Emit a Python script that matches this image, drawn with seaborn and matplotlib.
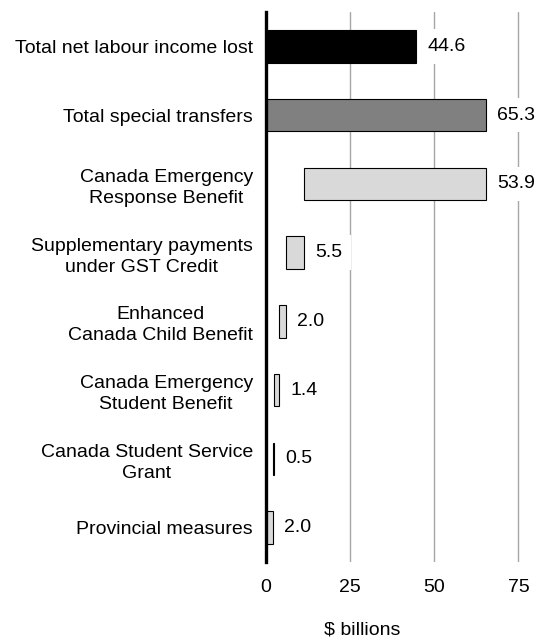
import numpy as np
import pandas as pd
import seaborn as sns
import matplotlib.pyplot as plt

# data
categories = [
    "Total net labour income lost",
    "Total special transfers",
    "Canada Emergency\nResponse Benefit",
    "Supplementary payments\nunder GST Credit",
    "Enhanced\nCanada Child Benefit",
    "Canada Emergency\nStudent Benefit",
    "Canada Student Service\nGrant",
    "Provincial measures",
]
values = [44.6, 65.3, 53.9, 5.5, 2.0, 1.4, 0.5, 2.0]
kinds = ["lost", "total", "part", "part", "part", "part", "part", "part"]
xticks = [0, 25, 50, 75]

colors = {"lost": "#000000", "total": "#808080", "part": "#d9d9d9"}

# waterfall: the parts stack up from the bottom row to the total
starts = []
running = 0.0
for v, k in zip(values[::-1], kinds[::-1]):
    if k == "part":
        starts.append(running)
        running += v
    else:
        starts.append(0.0)
starts = starts[::-1]

df = pd.DataFrame({"category": categories, "value": values, "kind": kinds})

sns.set_style("white")
plt.rcParams["font.family"] = ["Liberation Sans", "DejaVu Sans"]
plt.rcParams["text.color"] = "black"
plt.rcParams["xtick.color"] = "black"
plt.rcParams["ytick.color"] = "black"
plt.rcParams["axes.labelcolor"] = "black"

fig = plt.figure(figsize=(5.42, 6.4), dpi=100)
ax = fig.add_axes([266 / 542, 78 / 640, 276 / 542, 550 / 640])

sns.barplot(data=df, y="category", x="value", hue="category",
            palette=[colors[k] for k in kinds], legend=False,
            edgecolor="black", linewidth=0.8, width=0.47, ax=ax, zorder=3)

for patch, s, v, k in zip(ax.patches, starts, values, kinds):
    patch.set_x(s)
    patch.set_width(v)
    patch.set_facecolor(colors[k])

for i, (s, v) in enumerate(zip(starts, values)):
    ax.annotate(f"{v:.1f}", xy=(s + v, i), xytext=(8, 0),
                textcoords="offset points", va="center", ha="left",
                fontsize=14, color="black", zorder=4,
                bbox=dict(boxstyle="square,pad=0.45", fc="white", ec="none"))

ax.set_xlim(0, 82)
ax.set_ylim(7.5, -0.5)
ax.set_xticks(xticks)
ax.set_xticklabels([str(t) for t in xticks], fontsize=14)
ax.grid(axis="x", color="#a6a6a6", linewidth=1, zorder=1)
ax.grid(axis="y", visible=False)
ax.set_axisbelow(True)

ax.tick_params(axis="x", length=0, pad=12, colors="black")
ax.tick_params(axis="y", length=0, pad=9.5, labelsize=14, colors="black")
for lab in ax.get_yticklabels():
    lab.set_multialignment("center")
    lab.set_linespacing(1.3)

ax.set_ylabel("")
ax.set_xlabel("$ billions", fontsize=14, color="black")
ax.xaxis.set_label_coords(96 / 276, -68 / 550)
ax.xaxis.label.set_va("center")

for side in ["top", "right", "bottom"]:
    ax.spines[side].set_visible(False)
ax.spines["left"].set_linewidth(2.4)
ax.spines["left"].set_color("black")
ax.spines["left"].set_zorder(5)

fig.savefig("out.png", dpi=100)
